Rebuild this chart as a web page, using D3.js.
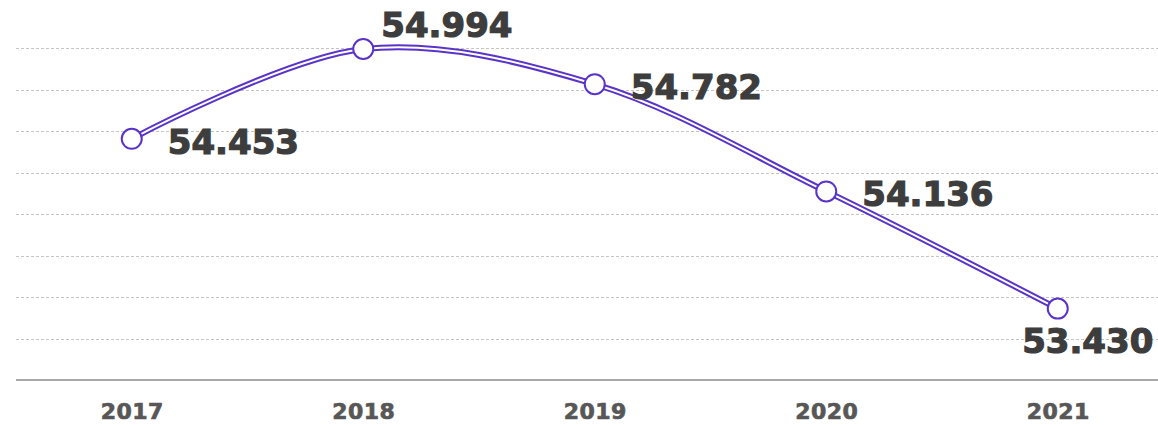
<!DOCTYPE html>
<html>
<head>
<meta charset="utf-8">
<script src="https://cdn.jsdelivr.net/npm/d3@7"></script>
<style>
  html, body { margin: 0; padding: 0; background: #fff; }
</style>
</head>
<body>
<div id="chart"></div>
<script>
var years = ['2017', '2018', '2019', '2020', '2021'];
var values = [54.453, 54.994, 54.782, 54.136, 53.430];
var yTicks = [53.25, 53.5, 53.75, 54, 54.25, 54.5, 54.75, 55];

var width = 1158;
var height = 425;
var lineColor = '#5a34c8';

var svg = d3.select('#chart').append('svg')
    .attr('width', width)
    .attr('height', height);

var x = d3.scalePoint()
    .domain(years)
    .range([16, 1173.5])
    .padding(0.5);

var y = d3.scaleLinear()
    .domain([53, 55])
    .range([380, 48]);

// grid
svg.append('g').selectAll('line')
    .data(yTicks)
    .enter().append('line')
    .attr('x1', 16)
    .attr('x2', width)
    .attr('y1', function(d) { return Math.round(y(d)) + 0.5; })
    .attr('y2', function(d) { return Math.round(y(d)) + 0.5; })
    .attr('stroke', '#c4c4c4')
    .attr('stroke-width', 1)
    .attr('stroke-dasharray', '3,2');

// baseline
svg.append('line')
    .attr('x1', 16)
    .attr('x2', width)
    .attr('y1', y(53))
    .attr('y2', y(53))
    .attr('stroke', '#a8a8a8')
    .attr('stroke-width', 2);

// x axis labels
var xAxis = d3.axisBottom(x).tickSize(0).tickPadding(0);
var xg = svg.append('g')
    .attr('transform', 'translate(0,' + 403 + ')')
    .call(xAxis);
xg.select('.domain').remove();
xg.selectAll('text')
    .attr('dy', '0.71em')
    .attr('font-family', 'DejaVu Sans, sans-serif')
    .attr('font-weight', 'bold')
    .attr('font-size', '22px')
    .attr('letter-spacing', '0.5px')
    .attr('fill', '#575757')
    .attr('stroke', '#575757')
    .attr('stroke-width', 0.7);

var pts = years.map(function(yr, i) { return [x(yr), y(values[i])]; });

var line = d3.line().curve(d3.curveCatmullRom.alpha(0.5));

svg.append('path')
    .attr('d', line(pts))
    .attr('fill', 'none')
    .attr('stroke', lineColor)
    .attr('stroke-width', 6);

svg.append('path')
    .attr('d', line(pts))
    .attr('fill', 'none')
    .attr('stroke', '#fff')
    .attr('stroke-width', 2);

svg.append('g').selectAll('circle')
    .data(pts)
    .enter().append('circle')
    .attr('cx', function(d) { return d[0]; })
    .attr('cy', function(d) { return d[1]; })
    .attr('r', 10)
    .attr('fill', '#fff')
    .attr('stroke', lineColor)
    .attr('stroke-width', 2);

// value labels
svg.append('g').selectAll('text')
    .data(values)
    .enter().append('text')
    .attr('x', function(d, i) {
        if (i === 1) return pts[i][0] + 18;
        if (i === values.length - 1) return pts[i][0] + 30;
        return pts[i][0] + 36;
    })
    .attr('y', function(d, i) {
        if (i === 1) return pts[i][1] - 12;
        if (i === values.length - 1) return pts[i][1] + 44;
        return pts[i][1] + 15;
    })
    .attr('text-anchor', function(d, i) { return i === values.length - 1 ? 'middle' : 'start'; })
    .attr('font-family', 'DejaVu Sans, sans-serif')
    .attr('font-weight', 'bold')
    .attr('font-size', '34px')
    .attr('fill', '#3d3d3d')
    .attr('stroke', '#3d3d3d')
    .attr('stroke-width', 1.2)
    .text(function(d) { return d3.format('.3f')(d); });
</script>
</body>
</html>
